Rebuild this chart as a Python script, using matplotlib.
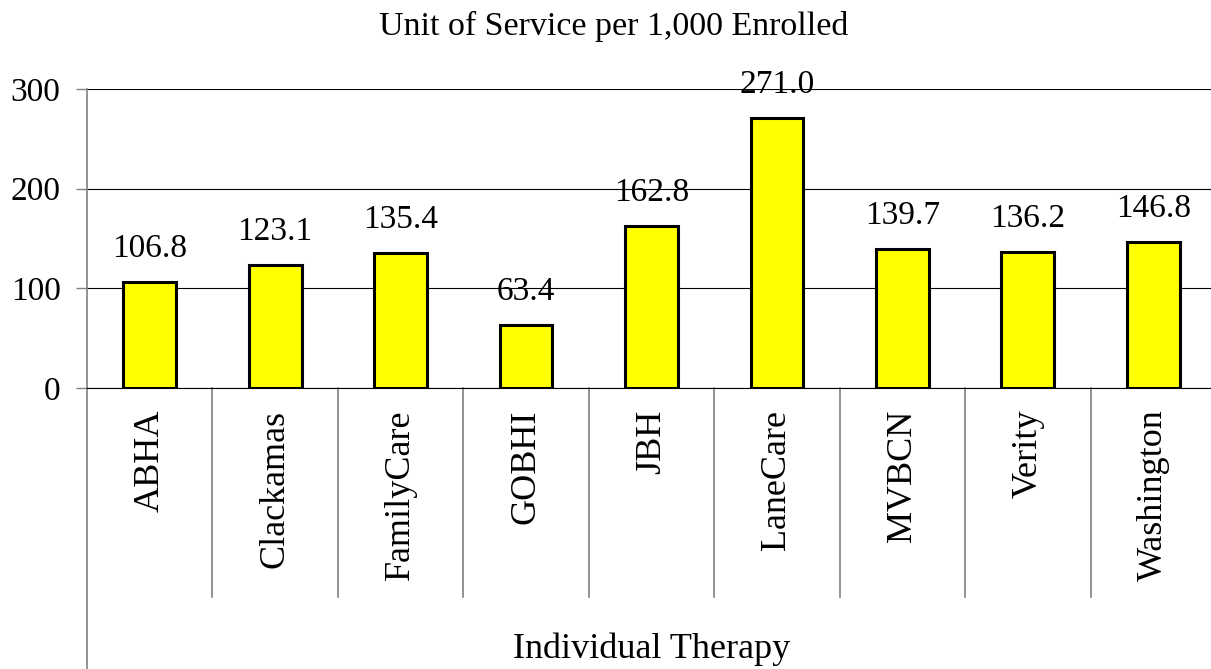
import matplotlib
matplotlib.use('Agg')
import matplotlib.pyplot as plt
import matplotlib.transforms as mtransforms

plt.rcParams['font.family'] = ['Liberation Serif', 'DejaVu Serif']

# chart data
categories = ['ABHA', 'Clackamas', 'FamilyCare', 'GOBHI', 'JBH',
              'LaneCare', 'MVBCN', 'Verity', 'Washington']
values = [106.8, 123.1, 135.4, 63.4, 162.8, 271.0, 139.7, 136.2, 146.8]
y_ticks = [0, 100, 200, 300]
title = 'Unit of Service per 1,000 Enrolled'
group_label = 'Individual Therapy'

W, H = 1211, 669
fig = plt.figure(figsize=(W / 100, H / 100), dpi=100)

# plot area in pixels: left 87, right ~1216 (runs past the edge), y0 = 388, y300 = 89
left, right, bottom, top = 87, 1216, 388, 89
ax = fig.add_axes([left / W, (H - bottom) / H, (right - left) / W, (bottom - top) / H])

x = list(range(len(categories)))
ax.bar(x, values, width=0.42, color='#FFFF00', edgecolor='black', linewidth=2.2, zorder=3)

ax.set_xlim(-0.5, len(categories) - 0.5)
ax.set_ylim(0, 300)
ax.set_axisbelow(True)

# gridlines
ax.set_yticks(y_ticks)
ax.set_yticklabels([str(t) for t in y_ticks], fontsize=24)
ax.yaxis.grid(True, color='black', linewidth=0.8)
ax.tick_params(axis='y', length=8, width=1, color='#808080', pad=11)

# category labels
ax.set_xticks(x)
ax.set_xticklabels(categories, rotation=90, fontsize=26, va='top', ha='center')
ax.tick_params(axis='x', length=0, pad=15.5)

for side in ['top', 'right']:
    ax.spines[side].set_visible(False)
ax.spines['left'].set_color('#808080')
ax.spines['left'].set_linewidth(1.2)
ax.spines['bottom'].set_color('black')
ax.spines['bottom'].set_linewidth(0.8)

# data labels above bars
for xi, v in zip(x, values):
    ax.annotate(f'{v:.1f}', xy=(xi, v), xytext=(0, 18), textcoords='offset points',
                ha='center', va='baseline', fontsize=24, zorder=4)

# separators between categories below axis
trans = mtransforms.blended_transform_factory(ax.transData, ax.transAxes)
sep_bottom = (bottom - 597) / (bottom - top)
for k in range(1, len(categories)):
    ax.plot([k - 0.5, k - 0.5], [0, sep_bottom], transform=trans, color='#808080',
            linewidth=1.2, clip_on=False)
ax.plot([-0.5, -0.5], [0, -1.2], transform=trans, color='#808080',
        linewidth=1.2, clip_on=False)

# group label
ax.text(0.5, (bottom - 658) / (bottom - top), group_label, transform=ax.transAxes,
        ha='center', va='baseline', fontsize=26)

# title
fig.text(614 / W, (H - 35) / H, title, ha='center', va='baseline', fontsize=24.5)

fig.savefig('out.png', dpi=100)
